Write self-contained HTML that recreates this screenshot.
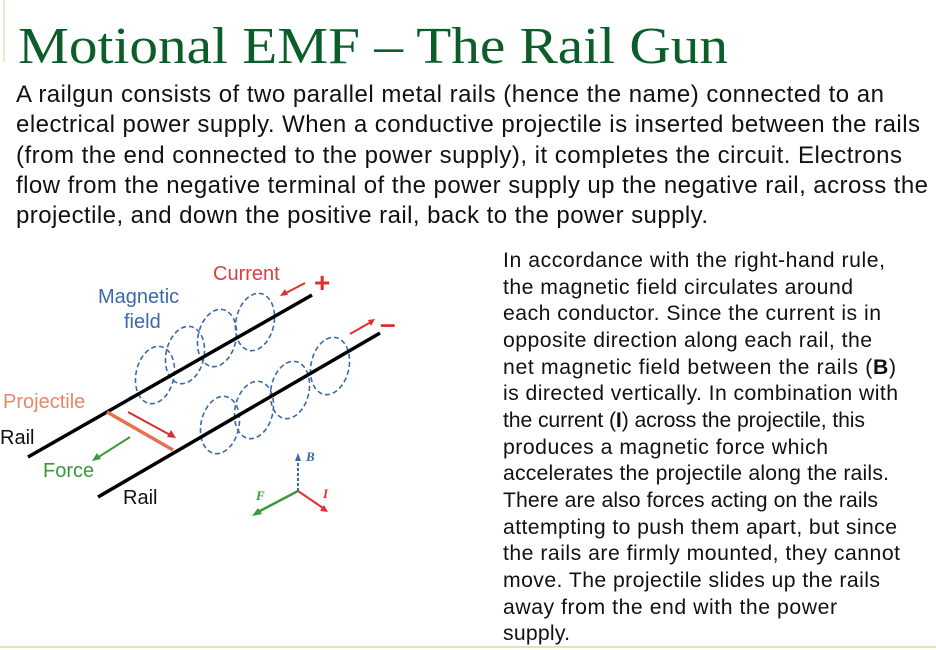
<!DOCTYPE html>
<html><head><meta charset="utf-8"><style>
body{margin:0;width:936px;height:650px;background:#fff;position:relative;overflow:hidden;font-family:"Liberation Sans",sans-serif}
</style></head><body>
<div style="position:absolute;left:3px;top:0;width:2px;height:62px;background:#efe6cf"></div>
<div style="position:absolute;left:0;top:646px;width:936px;height:2px;background:#dfe6b0"></div>
<svg style="position:absolute;left:0;top:0" width="936" height="650">
<text x="18" y="63" font-family="Liberation Serif" font-size="52" fill="#0b5d2a" textLength="710" lengthAdjust="spacingAndGlyphs">Motional EMF – The Rail Gun</text>
<g font-family="Liberation Sans" font-size="24" fill="#111" lengthAdjust="spacingAndGlyphs">
<text x="16" y="102" textLength="868">A railgun consists of two parallel metal rails (hence the name) connected to an</text>
<text x="16" y="132" textLength="904">electrical power supply. When a conductive projectile is inserted between the rails</text>
<text x="16" y="163" textLength="886">(from the end connected to the power supply), it completes the circuit. Electrons</text>
<text x="16" y="193" textLength="912">flow from the negative terminal of the power supply up the negative rail, across the</text>
<text x="16" y="223" textLength="692">projectile, and down the positive rail, back to the power supply.</text>
</g>
<g font-family="Liberation Sans" font-size="21.2" fill="#111" lengthAdjust="spacingAndGlyphs">
<text x="503" y="267" textLength="382">In accordance with the right-hand rule,</text>
<text x="503" y="294" textLength="350">the magnetic field circulates around</text>
<text x="503" y="320" textLength="378">each conductor. Since the current is in</text>
<text x="503" y="347" textLength="369">opposite direction along each rail, the</text>
<text x="503" y="374" textLength="393">net magnetic field between the rails (<tspan font-weight="bold">B</tspan>)</text>
<text x="503" y="400" textLength="395">is directed vertically. In combination with</text>
<text x="503" y="427" textLength="362">the current (<tspan font-weight="bold">I</tspan>) across the projectile, this</text>
<text x="503" y="454" textLength="325">produces a magnetic force which</text>
<text x="503" y="480" textLength="386">accelerates the projectile along the rails.</text>
<text x="503" y="507" textLength="375">There are also forces acting on the rails</text>
<text x="503" y="534" textLength="394">attempting to push them apart, but since</text>
<text x="503" y="560" textLength="397">the rails are firmly mounted, they cannot</text>
<text x="503" y="587" textLength="377">move. The projectile slides up the rails</text>
<text x="503" y="614" textLength="334">away from the end with the power</text>
<text x="503" y="640" textLength="67">supply.</text>
</g>
<g fill="none" stroke="#3a6aa8" stroke-width="1.6" stroke-dasharray="5,3">
<ellipse cx="155" cy="375" rx="19" ry="29" transform="rotate(12 155 375)"/>
<ellipse cx="185" cy="355" rx="19" ry="29" transform="rotate(12 185 355)"/>
<ellipse cx="217" cy="338" rx="19" ry="29" transform="rotate(12 217 338)"/>
<ellipse cx="255" cy="322" rx="19" ry="29" transform="rotate(12 255 322)"/>
<ellipse cx="220" cy="425" rx="19" ry="29" transform="rotate(12 220 425)"/>
<ellipse cx="254" cy="410" rx="19" ry="29" transform="rotate(12 254 410)"/>
<ellipse cx="290" cy="390" rx="19" ry="29" transform="rotate(12 290 390)"/>
<ellipse cx="330" cy="366" rx="19" ry="29" transform="rotate(12 330 366)"/>
</g>
<line x1="28" y1="457" x2="312" y2="295" stroke="#000" stroke-width="3.5"/>
<line x1="98" y1="497" x2="380" y2="333" stroke="#000" stroke-width="3.5"/>
<line x1="107" y1="412" x2="173" y2="450" stroke="#e8704f" stroke-width="3.5"/>
<g stroke-width="2">
<line x1="128" y1="412" x2="172" y2="436" stroke="#d4302f"/><path d="M176,438 l-9,-1 l4,-7z" fill="#d4302f"/>
<line x1="130" y1="437" x2="97" y2="458" stroke="#3a9a3a"/><path d="M92,461 l5,-8 l4,6z" fill="#3a9a3a"/>
<line x1="305" y1="283" x2="284" y2="294" stroke="#e03030"/><path d="M280,296 l5,-7 l3,6z" fill="#e03030"/>
<line x1="350" y1="334" x2="371" y2="322" stroke="#e03030"/><path d="M375,319 l-4,7 l-3,-6z" fill="#e03030"/>
<line x1="298" y1="491" x2="298" y2="460" stroke="#3a6aa8" stroke-dasharray="3,2"/><path d="M298,453 l-3,8 l6,0z" fill="#3a6aa8"/>
<line x1="298" y1="491" x2="258" y2="512" stroke="#3a9a3a" stroke-width="2.5"/><path d="M252,516 l6,-8 l4,6z" fill="#3a9a3a"/>
<line x1="298" y1="491" x2="323" y2="508" stroke="#e03030"/><path d="M328,512 l-8,-1 l4,-6z" fill="#e03030"/>
</g>
<text x="314" y="292" font-size="28" fill="#e03030" font-weight="bold">+</text>
<text x="380" y="333" font-size="28" fill="#e03030" font-weight="bold">–</text>
<g font-family="Liberation Sans" font-size="20">
<text x="213" y="280" fill="#d84040">Current</text>
<text x="98" y="303" fill="#3d68a8">Magnetic</text>
<text x="124" y="328" fill="#3d68a8">field</text>
<text x="3" y="408" fill="#e9876a">Projectile</text>
<text x="0" y="444" fill="#111">Rail</text>
<text x="43" y="477" fill="#3a9a3a">Force</text>
<text x="123" y="504" fill="#111">Rail</text>
</g>
<g font-family="Liberation Serif" font-style="italic" font-weight="bold" font-size="13">
<text x="306" y="461" fill="#3a6aa8">B</text>
<text x="256" y="500" fill="#3a9a3a">F</text>
<text x="323" y="498" fill="#e03030">I</text>
</g>
</svg>
</body></html>
